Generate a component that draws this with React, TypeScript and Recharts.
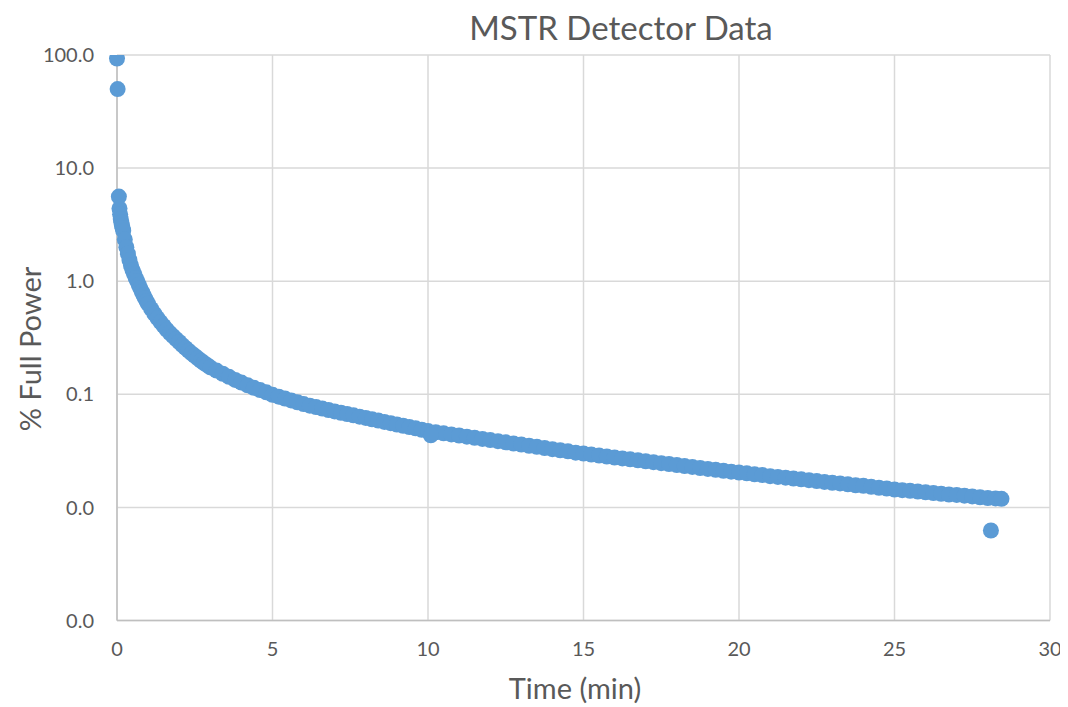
import React from "react";
import { ScatterChart, Scatter, XAxis, YAxis, CartesianGrid } from "recharts";

// Time (min) of each reading along the main decay curve
const timeMin: number[] = [
  0.0, 0.02, 0.06, 0.08, 0.1, 0.12, 0.14, 0.16, 0.18, 0.2,
  0.25, 0.3, 0.35, 0.4, 0.45, 0.5, 0.55, 0.6, 0.65, 0.7,
  0.75, 0.8, 0.85, 0.9, 0.95, 1.0, 1.1, 1.2, 1.3, 1.4,
  1.5, 1.6, 1.7, 1.8, 1.9, 2.0, 2.1, 2.2, 2.3, 2.4,
  2.5, 2.6, 2.7, 2.8, 2.9, 3.0, 3.2, 3.4, 3.6, 3.8,
  4.0, 4.2, 4.4, 4.6, 4.8, 5.0, 5.2, 5.4, 5.6, 5.8,
  6.0, 6.2, 6.4, 6.6, 6.8, 7.0, 7.2, 7.4, 7.6, 7.8,
  8.0, 8.2, 8.4, 8.6, 8.8, 9.0, 9.2, 9.4, 9.6, 9.8,
  10.0, 10.25, 10.5, 10.75, 11.0, 11.25, 11.5, 11.75, 12.0, 12.25,
  12.5, 12.75, 13.0, 13.25, 13.5, 13.75, 14.0, 14.25, 14.5, 14.75,
  15.0, 15.25, 15.5, 15.75, 16.0, 16.25, 16.5, 16.75, 17.0, 17.25,
  17.5, 17.75, 18.0, 18.25, 18.5, 18.75, 19.0, 19.25, 19.5, 19.75,
  20.0, 20.25, 20.5, 20.75, 21.0, 21.25, 21.5, 21.75, 22.0, 22.25,
  22.5, 22.75, 23.0, 23.25, 23.5, 23.75, 24.0, 24.25, 24.5, 24.75,
  25.0, 25.25, 25.5, 25.75, 26.0, 26.25, 26.5, 26.75, 27.0, 27.25,
  27.5, 27.75, 28.0, 28.25, 28.44,
];

// % of full power at each of the times above
const fullPowerPct: number[] = [
  93, 50, 5.6, 4.4, 3.9, 3.55, 3.3, 3.1, 2.95, 2.8,
  2.34, 2.0, 1.75, 1.54, 1.38, 1.25, 1.16, 1.07, 1.0, 0.929,
  0.865, 0.807, 0.755, 0.708, 0.667, 0.631, 0.569, 0.516, 0.472, 0.435,
  0.402, 0.373, 0.348, 0.327, 0.308, 0.29, 0.272, 0.257, 0.243, 0.23,
  0.219, 0.208, 0.198, 0.189, 0.181, 0.173, 0.162, 0.152, 0.1426, 0.134,
  0.127, 0.12, 0.114, 0.109, 0.104, 0.099, 0.0953, 0.0916, 0.0883, 0.0851,
  0.082, 0.0794, 0.0771, 0.0748, 0.0726, 0.0706, 0.0687, 0.0668, 0.0652, 0.0634,
  0.0618, 0.0601, 0.0586, 0.057, 0.0556, 0.0541, 0.0527, 0.0513, 0.05, 0.0486,
  0.0473, 0.0462, 0.0452, 0.0442, 0.0432, 0.0422, 0.0412, 0.0403, 0.0394, 0.0385,
  0.0376, 0.0367, 0.0359, 0.0351, 0.0343, 0.0335, 0.0327, 0.032, 0.0313, 0.0305,
  0.0299, 0.0293, 0.0287, 0.0282, 0.0276, 0.0271, 0.0266, 0.0261, 0.0256, 0.0251,
  0.0246, 0.0242, 0.0237, 0.0232, 0.0228, 0.0223, 0.0219, 0.0215, 0.0211, 0.0207,
  0.0203, 0.02, 0.0196, 0.0193, 0.0189, 0.0186, 0.0183, 0.018, 0.0177, 0.0174,
  0.0171, 0.0168, 0.0165, 0.0163, 0.016, 0.0157, 0.0155, 0.0152, 0.0149, 0.0147,
  0.0144, 0.0142, 0.014, 0.0138, 0.0136, 0.0134, 0.0132, 0.013, 0.0129, 0.0127,
  0.0125, 0.0123, 0.0121, 0.012, 0.0119,
];

// Two stray readings below the curve
const strayTimeMin: number[] = [10.09, 28.1];
const strayPct: number[] = [0.0434, 0.00625];

// Axis ticks
const xTicks: number[] = [0, 5, 10, 15, 20, 25, 30];
const yTicks: number[] = [0.001, 0.01, 0.1, 1, 10, 100];

const data = [
  ...timeMin.map((t, i) => ({ t, p: fullPowerPct[i] })),
  ...strayTimeMin.map((t, i) => ({ t, p: strayPct[i] })),
];

const BLUE = "#5B9BD5";
const TEXT = "#595959";
const FONT = "Lato, 'Open Sans', sans-serif";

const Dot = (props: any) => {
  const { cx, cy } = props;
  if (cx == null || cy == null) return null;
  return <circle cx={cx} cy={cy} r={8} fill={BLUE} />;
};

export default function App() {
  return (
    <div style={{ position: "relative", width: 1060, height: 699, fontFamily: FONT }}>
      <ScatterChart
        width={1060}
        height={699}
        margin={{ top: 47, right: 18, bottom: 56.5, left: 0 }}
      >
        <CartesianGrid stroke="#d9d9d9" strokeWidth={1.5} />
        <XAxis
          type="number"
          dataKey="t"
          domain={[0, 30]}
          ticks={xTicks}
          height={30}
          tickLine={false}
          tickMargin={15}
          axisLine={{ stroke: "#bfbfbf", strokeWidth: 1.5 }}
          tick={{ fill: TEXT, fontSize: 20, fontFamily: FONT }}
          interval={0}
        />
        <YAxis
          type="number"
          dataKey="p"
          scale="log"
          domain={[0.001, 100]}
          ticks={yTicks}
          allowDataOverflow
          width={109}
          tickLine={false}
          tickMargin={17}
          axisLine={{ stroke: "#bfbfbf", strokeWidth: 1.5 }}
          tick={{ fill: TEXT, fontSize: 20, fontFamily: FONT }}
          tickFormatter={(v: number) => v.toFixed(1)}
          interval={0}
        />
        <Scatter data={data} fill={BLUE} shape={Dot} isAnimationActive={false} />
      </ScatterChart>
      <div
        style={{
          position: "absolute",
          left: 0,
          width: 1226,
          top: 0,
          textAlign: "center",
          fontSize: 33,
          color: TEXT,
          lineHeight: "38px",
        }}
      >
        MSTR Detector Data
      </div>
      <div
        style={{
          position: "absolute",
          left: 467,
          width: 200,
          top: 663,
          textAlign: "center",
          fontSize: 29,
          color: TEXT,
          lineHeight: "34px",
        }}
      >
        Time (min)
      </div>
      <div
        style={{
          position: "absolute",
          left: 22 - 100,
          top: 341 - 17,
          width: 200,
          textAlign: "center",
          fontSize: 29,
          color: TEXT,
          lineHeight: "34px",
          transform: "rotate(-90deg)",
        }}
      >
        % Full Power
      </div>
    </div>
  );
}
